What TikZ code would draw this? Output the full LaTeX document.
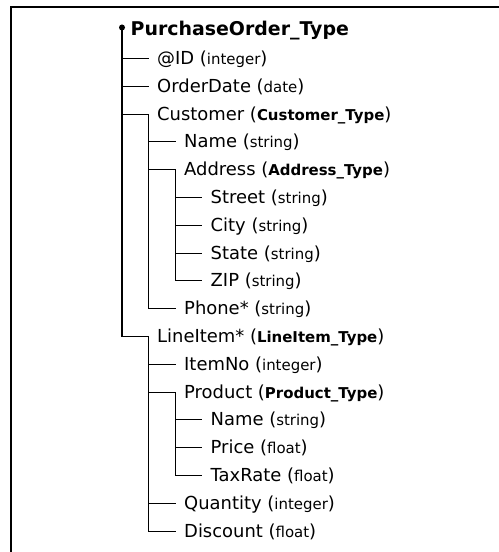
\documentclass[tikz,border=0pt]{standalone}
\usepackage{fontspec}
\setmainfont{DejaVu Sans}
\newcommand{\ty}[1]{{\fontsize{15}{15}\selectfont #1}}
\newcommand{\bt}[1]{{\fontsize{15}{15}\selectfont\bfseries #1}}
\begin{document}
\begin{tikzpicture}[x=1bp,y=-1bp,
  item/.style={anchor=west, inner xsep=8.5bp, inner ysep=0pt, text height=13pt, text depth=0pt,
               font=\fontsize{18}{18}\selectfont},
  conn/.style={line width=1.1bp},
  rootline/.style={line width=2bp},
  frame/.style={line width=1.8bp}]
\useasboundingbox (0,0) rectangle (499,552);
\draw[frame] (11,560) -- (11,7) -- (510,7);
% root
\node[circle, fill, inner sep=0pt, minimum size=6bp] (rdot) at (122,27.5) {};
\node[anchor=base west, inner sep=0pt, font=\fontsize{19}{19}\selectfont\bfseries] (root) at (130.5,35.5) {PurchaseOrder\_Type};
% level 1
\node[item] (id)    at (148.5,58.5)  {@ID (\ty{integer})};
\node[item] (odate) at (148.5,86.5)  {OrderDate (\ty{date})};
\node[item] (cust)  at (148.5,114.5) {Customer (\bt{Customer\_Type})};
\node[item] (li)    at (148.5,336.5) {LineItem* (\bt{LineItem\_Type})};
% customer children
\node[item] (cname) at (175.5,141.5) {Name (\ty{string})};
\node[item] (addr)  at (175.5,169.5) {Address (\bt{Address\_Type})};
\node[item] (phone) at (175.5,308.5) {Phone* (\ty{string})};
% address children
\node[item] (street) at (202,197.5) {Street (\ty{string})};
\node[item] (city)   at (202,225.5) {City (\ty{string})};
\node[item] (state)  at (202,253.5) {State (\ty{string})};
\node[item] (zip)    at (202,280.5) {ZIP (\ty{string})};
% lineitem children
\node[item] (itemno) at (175.5,364.5) {ItemNo (\ty{integer})};
\node[item] (prod)   at (175.5,392.5) {Product (\bt{Product\_Type})};
\node[item] (qty)    at (175.5,503.5) {Quantity (\ty{integer})};
\node[item] (disc)   at (175.5,531.5) {Discount (\ty{float})};
% product children
\node[item] (pname) at (202,419.5) {Name (\ty{string})};
\node[item] (price) at (202,447.5) {Price (\ty{float})};
\node[item] (tax)   at (202,475.5) {TaxRate (\ty{float})};
% connectors: one vertical per parent, one horizontal per child
\draw[rootline] (rdot.center) -- (rdot.center |- li.west);
\draw[conn] (cust.west) -- (cust.west |- phone.west);
\draw[conn] (addr.west) -- (addr.west |- zip.west);
\draw[conn] (li.west) -- (li.west |- disc.west);
\draw[conn] (prod.west) -- (prod.west |- tax.west);
\foreach \c in {id,odate,cust,li} \draw[conn] (rdot.center |- \c.west) -- (\c.west);
\foreach \c in {cname,addr,phone} \draw[conn] (cust.west |- \c.west) -- (\c.west);
\foreach \c in {street,city,state,zip} \draw[conn] (addr.west |- \c.west) -- (\c.west);
\foreach \c in {itemno,prod,qty,disc} \draw[conn] (li.west |- \c.west) -- (\c.west);
\foreach \c in {pname,price,tax} \draw[conn] (prod.west |- \c.west) -- (\c.west);
\end{tikzpicture}
\end{document}
